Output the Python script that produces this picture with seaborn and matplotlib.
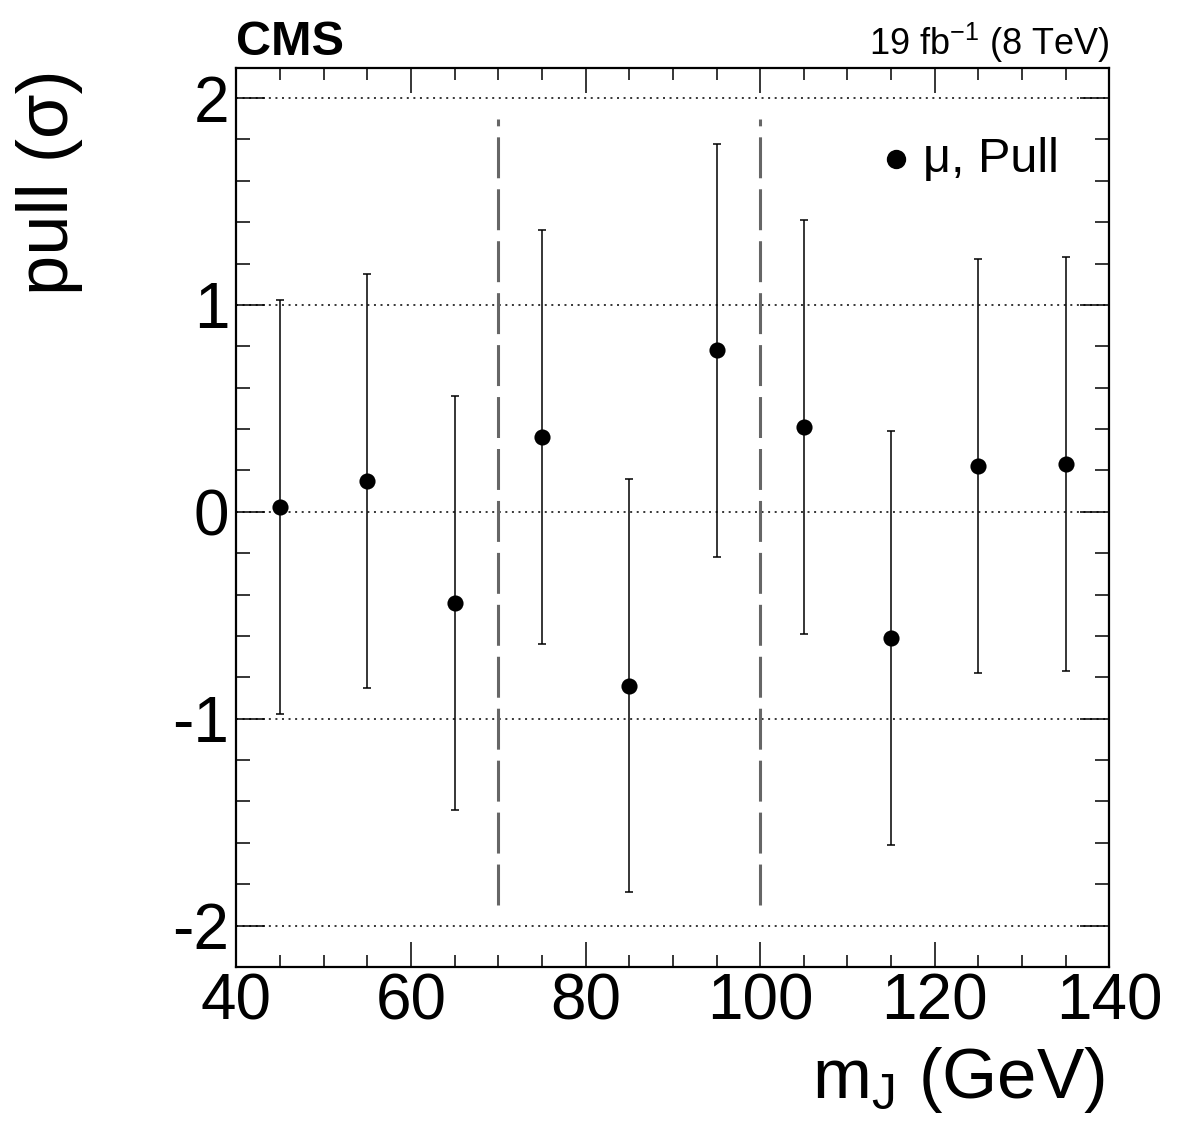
import matplotlib
matplotlib.use("Agg")
import matplotlib.pyplot as plt
from matplotlib.ticker import MultipleLocator
import seaborn as sns
import pandas as pd

# ---- data ----
mass_bins = [45, 55, 65, 75, 85, 95, 105, 115, 125, 135]
pull_values = [0.025, 0.15, -0.44, 0.36, -0.84, 0.78, 0.41, -0.61, 0.22, 0.23]
pull_errors = [1.0, 1.0, 1.0, 1.0, 1.0, 1.0, 1.0, 1.0, 1.0, 1.0]
region_edges = [70, 100]
ref_levels = [-2, -1, 0, 1, 2]
x_ticks = [40, 60, 80, 100, 120, 140]
y_ticks = [-2, -1, 0, 1, 2]

df = pd.DataFrame({"mJ": mass_bins, "pull": pull_values, "err": pull_errors})

sns.set_theme(style="ticks")
plt.rcParams["font.family"] = ["Liberation Sans", "DejaVu Sans"]
plt.rcParams["mathtext.fontset"] = "custom"
plt.rcParams["mathtext.rm"] = "Liberation Sans"
plt.rcParams["mathtext.it"] = "Liberation Sans:italic"
plt.rcParams["mathtext.bf"] = "Liberation Sans:bold"
plt.rcParams["axes.unicode_minus"] = False
plt.rcParams["text.color"] = "black"
plt.rcParams["axes.labelcolor"] = "black"
plt.rcParams["xtick.color"] = "black"
plt.rcParams["ytick.color"] = "black"

fig = plt.figure(figsize=(11.82, 11.38), dpi=100)
ax = fig.add_axes([0.1999, 0.1503, 0.7387, 0.7899])

# reference dotted lines
for lv in ref_levels:
    ax.axhline(lv, color="black", lw=1.1, linestyle=(0, (1.3, 3.0)), zorder=1)

# region boundaries
ax.vlines(region_edges, -1.9, 1.9, colors="#666666", linewidth=2.2,
          linestyles=[(0, (13.4, 3.6))], zorder=2)

# error bars
ax.errorbar(df["mJ"], df["pull"], yerr=df["err"], fmt="none", ecolor="black",
            elinewidth=1.1, capsize=3, capthick=1.1, zorder=3)

# points
sns.scatterplot(data=df, x="mJ", y="pull", ax=ax, color="black", s=135,
                linewidth=0, label="\u03bc, Pull", zorder=4)

ax.set_xlim(40, 140)
ax.set_ylim(-2.2, 2.145)
ax.set_xticks(x_ticks)
ax.set_yticks(y_ticks)
ax.xaxis.set_minor_locator(MultipleLocator(5))
ax.yaxis.set_minor_locator(MultipleLocator(0.2))

for s in ax.spines.values():
    s.set_linewidth(1.6)
    s.set_visible(True)
    s.set_color("black")

ax.tick_params(axis="x", which="both", direction="in", top=True, bottom=True,
               labelsize=46, pad=4, colors="black")
ax.tick_params(axis="y", which="both", direction="in", left=True, right=True,
               labelsize=46, pad=5, colors="black")
ax.tick_params(axis="x", which="major", length=18, width=1.1)
ax.tick_params(axis="x", which="minor", length=8.6, width=1.1)
ax.tick_params(axis="y", which="major", length=21, width=1.1)
ax.tick_params(axis="y", which="minor", length=10, width=1.1)

ax.set_xlabel("m$_{\\mathrm{J}}$ (GeV)", fontsize=51, loc="right", color="black")
ax.xaxis.label.set_va("baseline")
ax.xaxis.set_label_coords(0.995, -0.1457)
ax.set_ylabel("pull (\u03c3)", fontsize=52, loc="top", color="black")
ax.yaxis.set_label_coords(-0.175, 0.998)

ax.text(0.0, 1.0145, "CMS", transform=ax.transAxes, fontsize=35,
        fontweight="bold", ha="left", va="baseline", color="black")
ax.text(1.0, 1.0145, "19 fb$^{-1}$ (8 TeV)", transform=ax.transAxes,
        fontsize=26, ha="right", va="baseline", color="black")

leg = ax.legend(loc="center right", bbox_to_anchor=(0.942, 0.898), frameon=False,
                fontsize=35, handletextpad=0.15, borderpad=0, borderaxespad=0,
                handlelength=0.8, markerscale=1.2)
for t in leg.get_texts():
    t.set_color("black")

fig.savefig("out.png", dpi=100)
